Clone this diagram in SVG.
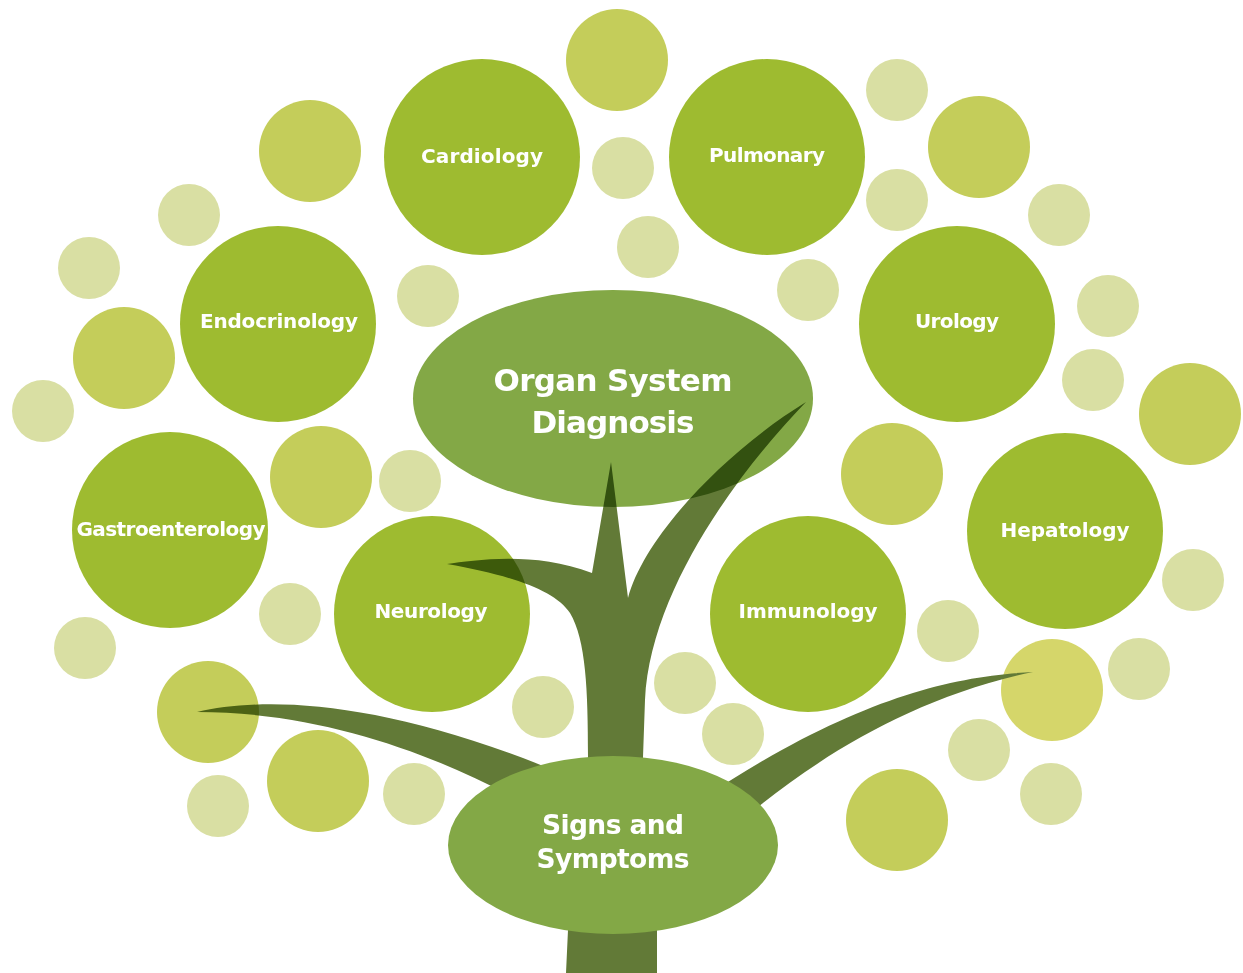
<svg xmlns="http://www.w3.org/2000/svg" width="1243" height="973" viewBox="0 0 1243 973">
<style>
.big{fill:#9ebb30}
.med{fill:#c4cd5a}
.lit{fill:#d9dfa3}
.yel{fill:#d5d66a}
.ell{fill:#83a846}
.br{fill:#627a37}
.mul{mix-blend-mode:multiply}
.lbl{font-family:"DejaVu Sans","Liberation Sans",sans-serif;font-weight:bold;font-size:20px;fill:#fff;text-anchor:middle}
.ttl{font-family:"DejaVu Sans","Liberation Sans",sans-serif;font-weight:bold;fill:#fff;text-anchor:middle}
</style>
<rect width="1243" height="973" fill="#fff"/>
<g id="decor">
<circle class="med" cx="617" cy="60" r="51"/>
<circle class="med" cx="310" cy="151" r="51"/>
<circle class="med" cx="979" cy="147" r="51"/>
<circle class="med" cx="124" cy="358" r="51"/>
<circle class="med" cx="321" cy="477" r="51"/>
<circle class="med" cx="892" cy="474" r="51"/>
<circle class="med" cx="1190" cy="414" r="51"/>
<circle class="med" cx="208" cy="712" r="51"/>
<circle class="med" cx="318" cy="781" r="51"/>
<circle class="med" cx="897" cy="820" r="51"/>
<circle class="yel" cx="1052" cy="690" r="51"/>
<circle class="lit" cx="623" cy="168" r="31"/>
<circle class="lit" cx="648" cy="247" r="31"/>
<circle class="lit" cx="897" cy="90" r="31"/>
<circle class="lit" cx="897" cy="200" r="31"/>
<circle class="lit" cx="808" cy="290" r="31"/>
<circle class="lit" cx="428" cy="296" r="31"/>
<circle class="lit" cx="189" cy="215" r="31"/>
<circle class="lit" cx="89" cy="268" r="31"/>
<circle class="lit" cx="43" cy="411" r="31"/>
<circle class="lit" cx="410" cy="481" r="31"/>
<circle class="lit" cx="290" cy="614" r="31"/>
<circle class="lit" cx="85" cy="648" r="31"/>
<circle class="lit" cx="543" cy="707" r="31"/>
<circle class="lit" cx="218" cy="806" r="31"/>
<circle class="lit" cx="414" cy="794" r="31"/>
<circle class="lit" cx="685" cy="683" r="31"/>
<circle class="lit" cx="733" cy="734" r="31"/>
<circle class="lit" cx="948" cy="631" r="31"/>
<circle class="lit" cx="1059" cy="215" r="31"/>
<circle class="lit" cx="1108" cy="306" r="31"/>
<circle class="lit" cx="1093" cy="380" r="31"/>
<circle class="lit" cx="1193" cy="580" r="31"/>
<circle class="lit" cx="1139" cy="669" r="31"/>
<circle class="lit" cx="979" cy="750" r="31"/>
<circle class="lit" cx="1051" cy="794" r="31"/>
</g>
<g id="cardiology"><circle class="big" cx="482" cy="157" r="98"/><text class="lbl" x="482" y="163" textLength="122">Cardiology</text></g>
<g id="pulmonary"><circle class="big" cx="767" cy="157" r="98"/><text class="lbl" x="767" y="162" textLength="116">Pulmonary</text></g>
<g id="endocrinology"><circle class="big" cx="278" cy="324" r="98"/><text class="lbl" x="279" y="328" textLength="158">Endocrinology</text></g>
<g id="urology"><circle class="big" cx="957" cy="324" r="98"/><text class="lbl" x="957" y="328" textLength="84">Urology</text></g>
<g id="gastroenterology"><circle class="big" cx="170" cy="530" r="98"/><text class="lbl" x="171" y="536" font-size="19" textLength="189">Gastroenterology</text></g>
<g id="hepatology"><circle class="big" cx="1065" cy="531" r="98"/><text class="lbl" x="1065" y="537" textLength="129">Hepatology</text></g>
<g id="neurology"><circle class="big" cx="432" cy="614" r="98"/><text class="lbl" x="431" y="618" textLength="113">Neurology</text></g>
<g id="immunology"><circle class="big" cx="808" cy="614" r="98"/><text class="lbl" x="808" y="618" textLength="139">Immunology</text></g>
<g id="organ-system-diagnosis">
<ellipse class="ell" cx="613" cy="398.5" rx="200" ry="108.5"/>
<text class="ttl" font-size="31" x="613" y="391" textLength="239">Organ System</text>
<text class="ttl" font-size="31" x="613" y="433" textLength="163">Diagnosis</text>
</g>
<g id="connectors">
<path class="br mul" d="M566,973 L568,930 L588,757 C588,690 586,640 570,613 C555,590 510,575 447,564 C475,560 535,551 592,573 L611,462 L628,598 C643,540 720,455 806,402 C740,470 650,590 645,700 L643,757 L657,930 L657,973 Z"/>
<path class="br mul" d="M197,712 C270,695 400,700 600,790 L540,812 C450,760 330,712 197,712 Z"/>
<path class="br" d="M1033,672 C950,676 850,700 700,800 L730,830 C800,770 900,700 1033,672 Z"/>
</g>
<g id="signs-and-symptoms">
<ellipse class="ell" cx="613" cy="845" rx="165" ry="89"/>
<text class="ttl" font-size="26.5" x="613" y="834" textLength="142">Signs and</text>
<text class="ttl" font-size="26.5" x="613" y="868" textLength="153">Symptoms</text>
</g>
</svg>
